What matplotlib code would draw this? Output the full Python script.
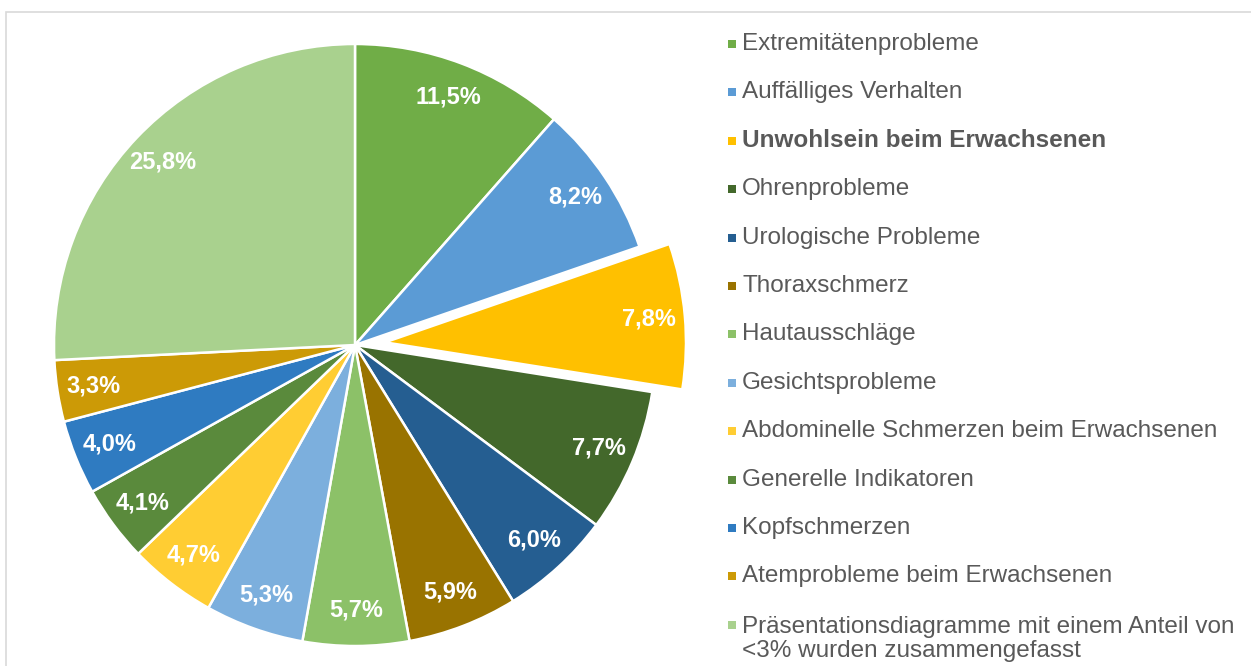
import matplotlib
matplotlib.use("Agg")
import matplotlib.pyplot as plt
from matplotlib.patches import Rectangle

plt.rcParams['font.family'] = ['Liberation Sans', 'DejaVu Sans']

# ---------------------------------------------------------------- data
labels = [
    'Extremitätenprobleme',
    'Auffälliges Verhalten',
    'Unwohlsein beim Erwachsenen',
    'Ohrenprobleme',
    'Urologische Probleme',
    'Thoraxschmerz',
    'Hautausschläge',
    'Gesichtsprobleme',
    'Abdominelle Schmerzen beim Erwachsenen',
    'Generelle Indikatoren',
    'Kopfschmerzen',
    'Atemprobleme beim Erwachsenen',
    'Präsentationsdiagramme mit einem Anteil von\n<3% wurden zusammengefasst',
]
shares = [11.5, 8.2, 7.8, 7.7, 6.0, 5.9, 5.7, 5.3, 4.7, 4.1, 4.0, 3.3, 25.8]
colors = ['#70AD47', '#5B9BD5', '#FFC000', '#43682B', '#255E91', '#997300',
          '#8CC168', '#7CAFDD', '#FFCD33', '#5A8A3C', '#2F7BC1', '#CC9A06',
          '#A9D18E']
highlight = 2  # exploded / bold entry

W, H = 1251, 666
fig = plt.figure(figsize=(W / 100, H / 100), dpi=100)

# light frame around the chart area (cut off at right and bottom)
fig.patches.append(Rectangle((6 / W, -0.1), 1.2, 1 - 12 / H + 0.1,
                             transform=fig.transFigure, fill=False,
                             edgecolor='#D9D9D9', lw=1.2))

# pie axes: centre at (355, 345) px, radius 301 px
R = 301
lim = 1.15
side = 2 * lim * R
cx, cy = 355, 345
ax = fig.add_axes([(cx - side / 2) / W, (H - cy - side / 2) / H, side / W, side / H])

explode = [0.1 if i == highlight else 0 for i in range(len(shares))]
wedges, texts, autotexts = ax.pie(
    shares, colors=colors, startangle=90, counterclock=False, explode=explode,
    radius=1.0, pctdistance=0.88,
    autopct=lambda p: f'{p:.1f}%'.replace('.', ','),
    wedgeprops=dict(edgecolor='white', linewidth=1.8),
    textprops=dict(color='white', fontsize=17, fontweight='bold'))
# pie() resets the limits, so set them afterwards
ax.set_xlim(-lim, lim)
ax.set_ylim(-lim, lim)
ax.set_aspect('equal')
ax.axis('off')

# ---------------------------------------------------------------- legend
x_mark, x_text = 728, 742
y0, dy = 44, 48.4
for i, (lab, col) in enumerate(zip(labels, colors)):
    y = y0 + i * dy
    fig.patches.append(Rectangle((x_mark / W, 1 - (y + 4) / H), 8 / W, 8 / H,
                                 transform=fig.transFigure, facecolor=col,
                                 edgecolor='none'))
    fig.text(x_text / W, 1 - y / H, lab, fontsize=17.5, color='#595959',
             va='top' if '\n' in lab else 'center', ha='left',
             fontweight='bold' if i == highlight else 'normal',
             linespacing=1.15)

# multi-line entry: shift so first line is centred on its row
t = fig.texts[-1]
t.set_y(1 - (y0 + (len(labels) - 1) * dy - 9) / H)

fig.savefig('out.png', dpi=100, facecolor='white')
